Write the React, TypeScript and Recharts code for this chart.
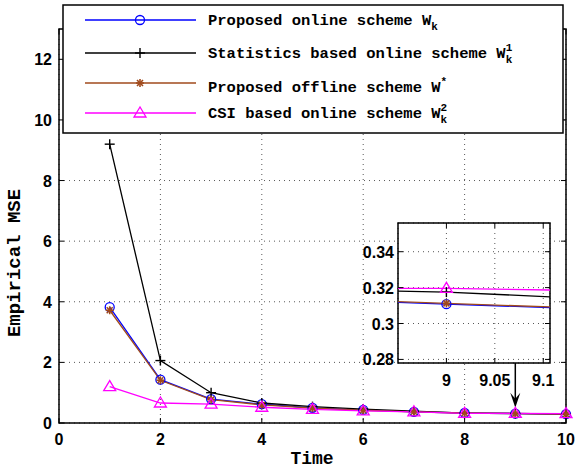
import React from 'react'
import {
  LineChart,
  Line,
  XAxis,
  YAxis,
  CartesianGrid,
  ReferenceArea,
  ReferenceLine,
} from 'recharts'

// values
const time = [1, 2, 3, 4, 5, 6, 7, 8, 9, 10]
const onlineW = [3.82, 1.43, 0.79, 0.62, 0.5, 0.43, 0.37, 0.33, 0.3108, 0.293]
const statsW1 = [9.2, 2.06, 1.0, 0.66, 0.54, 0.46, 0.39, 0.328, 0.3175, 0.293]
const offlineW = [3.72, 1.41, 0.77, 0.6, 0.49, 0.42, 0.37, 0.33, 0.3112, 0.293]
const csiW2 = [1.2, 0.66, 0.62, 0.52, 0.45, 0.4, 0.37, 0.32, 0.3196, 0.311]

const xTicks = [0, 2, 4, 6, 8, 10]
const yTicks = [0, 2, 4, 6, 8, 10, 12]
const insetXTicks = [9, 9.05, 9.1]
const insetYTicks = [0.28, 0.3, 0.32, 0.34]

const rows = time.map((t, i) => ({
  t,
  online: onlineW[i],
  stats: statsW1[i],
  offline: offlineW[i],
  csi: csiW2[i],
}))

const series = [
  { key: 'online', color: '#0000ff', marker: 'circle', text: 'Proposed online scheme W', sub: 'k', sup: '' },
  { key: 'stats', color: '#000000', marker: 'plus', text: 'Statistics based online scheme W', sub: 'k', sup: '1' },
  { key: 'offline', color: '#a04a1c', marker: 'star', text: 'Proposed offline scheme W', sub: '', sup: '*' },
  { key: 'csi', color: '#ff00ff', marker: 'triangle', text: 'CSI based online scheme W', sub: 'k', sup: '2' },
]

const TICK_FONT = 'Liberation Sans'
const MONO = 'Liberation Mono'

// plot boxes (svg coords of each chart)
const MAIN = { left: 59, right: 566, top: 29, bottom: 423 }
const INSET = { left: 58, right: 210, top: 9, bottom: 149 }

function Marker({ kind, cx, cy, color }: any) {
  if (cx == null || cy == null) return null
  if (kind === 'circle')
    return <circle cx={cx} cy={cy} r={4.5} fill="none" stroke={color} strokeWidth={1.3} />
  if (kind === 'plus')
    return (
      <g stroke={color} strokeWidth={1.4}>
        <line x1={cx - 5} x2={cx + 5} y1={cy} y2={cy} />
        <line x1={cx} x2={cx} y1={cy - 5} y2={cy + 5} />
      </g>
    )
  if (kind === 'star')
    return (
      <g stroke={color} strokeWidth={1.6}>
        <line x1={cx - 4} x2={cx + 4} y1={cy} y2={cy} />
        <line x1={cx} x2={cx} y1={cy - 4} y2={cy + 4} />
        <line x1={cx - 3} x2={cx + 3} y1={cy - 3} y2={cy + 3} />
        <line x1={cx - 3} x2={cx + 3} y1={cy + 3} y2={cy - 3} />
      </g>
    )
  return (
    <polygon
      points={`${cx},${cy - 6} ${cx - 6},${cy + 4} ${cx + 6},${cy + 4}`}
      fill="none"
      stroke={color}
      strokeWidth={1.3}
    />
  )
}

const makeXTick = (box: any, labelY: number, size: number) => (p: any) => (
  <g>
    <line x1={p.x} x2={p.x} y1={box.bottom} y2={box.bottom - 5} stroke="#000" />
    <line x1={p.x} x2={p.x} y1={box.top} y2={box.top + 5} stroke="#000" />
    <text x={p.x} y={labelY} textAnchor="middle" fontFamily={TICK_FONT} fontWeight="bold" fontSize={size} fill="#000">
      {p.payload.value}
    </text>
  </g>
)

const makeYTick = (box: any, labelX: number, size: number) => (p: any) => (
  <g>
    <line x1={box.left} x2={box.left + 5} y1={p.y} y2={p.y} stroke="#000" />
    <line x1={box.right} x2={box.right - 5} y1={p.y} y2={p.y} stroke="#000" />
    <text x={labelX} y={p.y + 6} textAnchor="end" fontFamily={TICK_FONT} fontWeight="bold" fontSize={size} fill="#000">
      {p.payload.value}
    </text>
  </g>
)

function Arrow(p: any) {
  const { x1, y1, x2, y2 } = p
  return (
    <g>
      <line x1={x1} y1={y1} x2={x2} y2={y2 - 8} stroke="#000" strokeWidth={1.5} />
      <polygon points={`${x2},${y2} ${x2 - 5},${y2 - 15} ${x2},${y2 - 9} ${x2 + 5},${y2 - 15}`} fill="#000" />
    </g>
  )
}

function renderLines() {
  return series.map((s) => (
    <Line
      key={s.key}
      type="linear"
      dataKey={s.key}
      stroke={s.color}
      strokeWidth={1.3}
      isAnimationActive={false}
      activeDot={false}
      dot={(p: any) => <Marker key={`${s.key}-${p.index}`} kind={s.marker} cx={p.cx} cy={p.cy} color={s.color} />}
    />
  ))
}

function LegendBox() {
  const lineY = [20, 53, 83, 113]
  const textY = [25, 58, 92, 118]
  return (
    <svg width={503} height={131} style={{ position: 'absolute', left: 62, top: 4 }}>
      <rect x={1} y={1} width={500} height={128} fill="#fff" stroke="#000" strokeWidth={1.5} />
      {series.map((s, i) => {
        const ly = lineY[i] - 4
        return (
          <g key={s.key}>
            <line x1={23} x2={134} y1={ly} y2={ly} stroke={s.color} strokeWidth={1.3} />
            <Marker kind={s.marker} cx={78} cy={ly} color={s.color} />
            <text x={146} y={textY[i] - 4} fontFamily={MONO} fontWeight="bold" fontSize={15.5} fill="#000">
              {s.text}
              {s.sub && (
                <tspan dy={5} fontSize={11}>
                  {s.sub}
                </tspan>
              )}
              {s.sup && (
                <tspan dx={s.sub ? -6.6 : 0} dy={s.sub ? -12 : -7} fontSize={11}>
                  {s.sup}
                </tspan>
              )}
            </text>
          </g>
        )
      })}
    </svg>
  )
}

export default function App() {
  return (
    <div style={{ position: 'absolute', left: 0, top: 0, width: 575, height: 468, background: '#fff' }}>
      <LineChart width={575} height={468} data={rows} margin={{ top: 29, right: 9, left: 0, bottom: 0 }}>
        <CartesianGrid stroke="#444" strokeDasharray="1 4" strokeWidth={0.9} />
        <XAxis
          dataKey="t"
          type="number"
          domain={[0, 10]}
          ticks={xTicks}
          height={45}
          axisLine={false}
          tickLine={false}
          tick={makeXTick(MAIN, 445, 16)}
          label={{
            content: () => (
              <text x={312} y={464} textAnchor="middle" fontFamily={MONO} fontWeight="bold" fontSize={18} fill="#000">
                Time
              </text>
            ),
          }}
        />
        <YAxis
          type="number"
          domain={[0, 13]}
          ticks={yTicks}
          width={59}
          axisLine={false}
          tickLine={false}
          tick={makeYTick(MAIN, 52, 16)}
          label={{
            content: () => (
              <text
                transform="translate(20,263) rotate(-90)"
                textAnchor="middle"
                fontFamily={MONO}
                fontWeight="bold"
                fontSize={19}
                fill="#000"
              >
                Empirical MSE
              </text>
            ),
          }}
        />
        <ReferenceArea x1={0} x2={10} y1={0} y2={13} fill="none" stroke="#000" strokeWidth={1.5} />
        {renderLines()}
        <ReferenceLine
          segment={[
            { x: 9, y: 1.98 },
            { x: 9, y: 0.5 },
          ]}
          shape={Arrow}
        />
      </LineChart>

      <div style={{ position: 'absolute', left: 340, top: 214 }}>
        <LineChart width={220} height={180} data={rows} margin={{ top: 9, right: 10, left: 0, bottom: 0 }}>
          <CartesianGrid fill="#fff" stroke="#444" strokeDasharray="1 4" strokeWidth={0.9} />
          <XAxis
            dataKey="t"
            type="number"
            domain={[8.95, 9.107]}
            allowDataOverflow
            ticks={insetXTicks}
            height={31}
            axisLine={false}
            tickLine={false}
            tick={makeXTick(INSET, 172, 16)}
          />
          <YAxis
            type="number"
            domain={[0.278, 0.356]}
            allowDataOverflow
            ticks={insetYTicks}
            width={58}
            axisLine={false}
            tickLine={false}
            tick={makeYTick(INSET, 54, 16)}
          />
          <ReferenceArea x1={8.95} x2={9.107} y1={0.278} y2={0.356} fill="none" stroke="#000" strokeWidth={1.5} />
          {renderLines()}
        </LineChart>
      </div>

      <LegendBox />
    </div>
  )
}
